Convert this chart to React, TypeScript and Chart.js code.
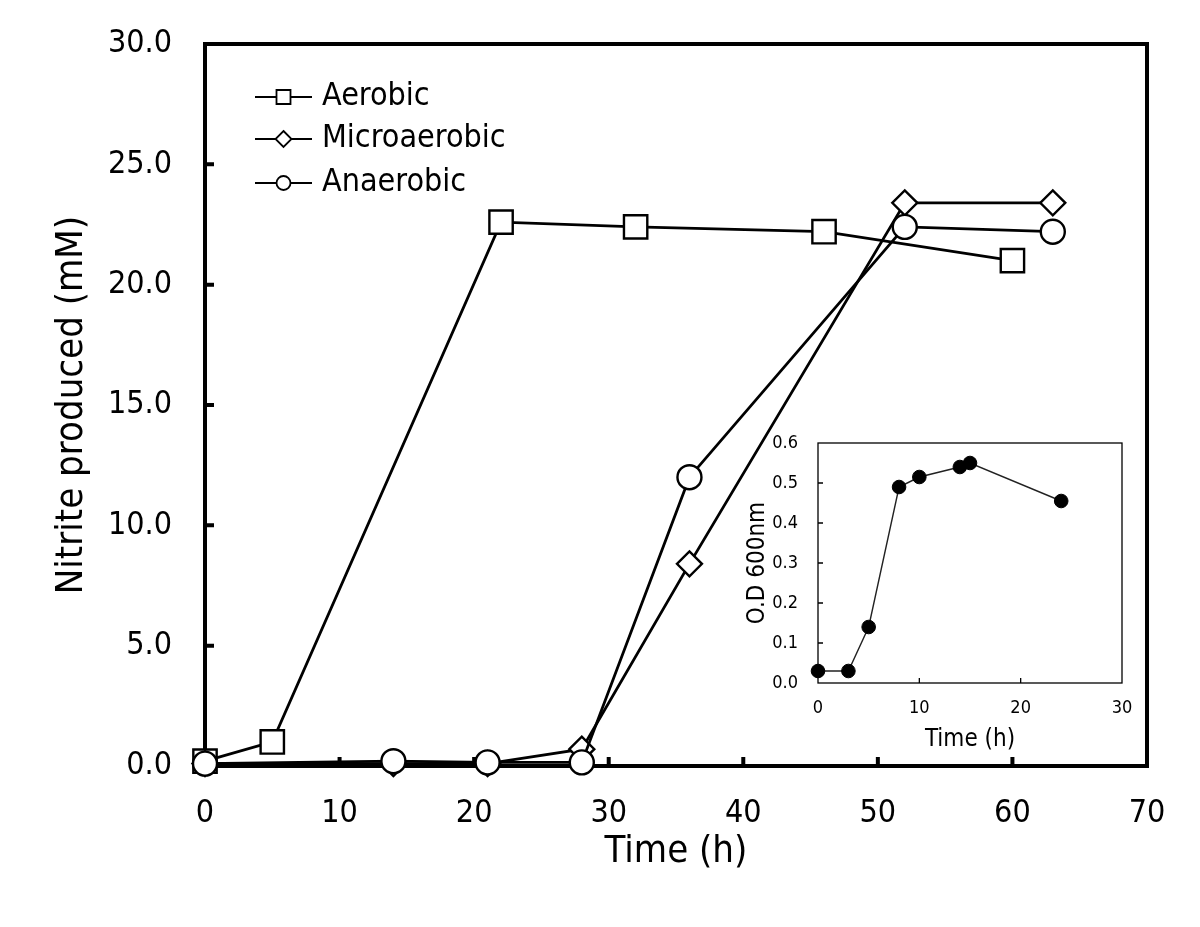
import React, { useEffect, useRef } from 'react';
import { Chart, registerables } from 'chart.js';

Chart.register(...registerables);

const FONT = '"DejaVu Sans Condensed", "DejaVu Sans", Verdana, sans-serif';

// ---- Main chart data ----
const seriesLabels = ['Aerobic', 'Microaerobic', 'Anaerobic'];
const aerobicTime = [0, 5, 22, 32, 46, 60];
const aerobicNitrite = [0.2, 1.0, 22.6, 22.4, 22.2, 21.0];
const microTime = [0, 14, 21, 28, 36, 52, 63];
const microNitrite = [0.1, 0.1, 0.1, 0.7, 8.4, 23.4, 23.4];
const anaerTime = [0, 14, 21, 28, 36, 52, 63];
const anaerNitrite = [0.1, 0.2, 0.15, 0.15, 12.0, 22.4, 22.2];
const mainXMin = 0;
const mainXMax = 70;
const mainXStep = 10;
const mainYMin = 0;
const mainYMax = 30;
const mainYStep = 5;

// ---- Inset data ----
const insetTime = [0, 3, 5, 8, 10, 14, 15, 24];
const insetOD = [0.03, 0.03, 0.14, 0.49, 0.515, 0.54, 0.55, 0.455];
const insetXMax = 30;
const insetXStep = 10;
const insetYMax = 0.6;
const insetYStep = 0.1;

const toPoints = (xs: number[], ys: number[]) => xs.map((x, i) => ({ x, y: ys[i] }));

const framePlugin = {
  id: 'frame',
  beforeDatasetsDraw(chart: any, _args: any, opts: any) {
    const { ctx, chartArea: a, scales } = chart;
    ctx.save();
    ctx.strokeStyle = '#000';
    ctx.lineWidth = opts.lineWidth;
    ctx.strokeRect(a.left, a.top, a.right - a.left, a.bottom - a.top);
    ctx.beginPath();
    scales.x.ticks.forEach((t: any) => {
      const px = scales.x.getPixelForValue(t.value);
      if (px > a.left + 2 && px < a.right - 2) {
        ctx.moveTo(px, a.bottom);
        ctx.lineTo(px, a.bottom - opts.tickLen);
      }
    });
    scales.y.ticks.forEach((t: any) => {
      const py = scales.y.getPixelForValue(t.value);
      if (py > a.top + 2 && py < a.bottom - 2) {
        ctx.moveTo(a.left, py);
        ctx.lineTo(a.left + opts.tickLen, py);
      }
    });
    ctx.stroke();
    ctx.restore();
  },
};

const legendPlugin = {
  id: 'customLegend',
  afterDraw(chart: any) {
    const { ctx, chartArea: a } = chart;
    const offsets = [53, 95, 139];
    ctx.save();
    chart.data.datasets.forEach((ds: any, i: number) => {
      const y = a.top + offsets[i];
      const x0 = a.left + 50;
      const x1 = a.left + 107;
      const cx = (x0 + x1) / 2;
      ctx.strokeStyle = '#000';
      ctx.lineWidth = 2;
      ctx.beginPath();
      ctx.moveTo(x0, y);
      ctx.lineTo(x1, y);
      ctx.stroke();
      ctx.fillStyle = '#fff';
      ctx.lineWidth = 1.8;
      ctx.beginPath();
      if (ds.pointStyle === 'rect') {
        ctx.rect(cx - 7, y - 7, 14, 14);
      } else if (ds.pointStyle === 'rectRot') {
        ctx.moveTo(cx, y - 8);
        ctx.lineTo(cx + 8, y);
        ctx.lineTo(cx, y + 8);
        ctx.lineTo(cx - 8, y);
        ctx.closePath();
      } else {
        ctx.arc(cx, y, 7, 0, Math.PI * 2);
      }
      ctx.fill();
      ctx.stroke();
      ctx.fillStyle = '#000';
      ctx.font = `32px ${FONT}`;
      ctx.textBaseline = 'middle';
      ctx.textAlign = 'left';
      ctx.fillText(ds.label, x1 + 10, y);
    });
    ctx.restore();
  },
};

const noPadV = (s: any) => { s.paddingTop = 0; s.paddingBottom = 0; };
const noPadH = (s: any) => { s.paddingLeft = 0; s.paddingRight = 0; };

export default function App() {
  const mainRef = useRef<HTMLCanvasElement>(null);
  const insetRef = useRef<HTMLCanvasElement>(null);

  useEffect(() => {
    const common = {
      borderColor: '#000',
      backgroundColor: '#fff',
      pointBackgroundColor: '#fff',
      pointBorderColor: '#000',
      borderWidth: 2.8,
      pointBorderWidth: 2.4,
      showLine: true,
      clip: false as any,
    };
    const main = new Chart(mainRef.current!, {
      type: 'scatter',
      data: {
        datasets: [
          { ...common, label: seriesLabels[0], data: toPoints(aerobicTime, aerobicNitrite), pointStyle: 'rect', pointRadius: 16.5, order: 3 },
          { ...common, label: seriesLabels[1], data: toPoints(microTime, microNitrite), pointStyle: 'rectRot', pointRadius: 12.5, order: 2 },
          { ...common, label: seriesLabels[2], data: toPoints(anaerTime, anaerNitrite), pointStyle: 'circle', pointRadius: 12, order: 1 },
        ],
      },
      options: {
        animation: false,
        responsive: false,
        layout: { padding: { top: 44, right: 53, left: 0, bottom: 0 } },
        plugins: {
          legend: { display: false },
          tooltip: { enabled: false },
          frame: { lineWidth: 4, tickLen: 9 },
        } as any,
        scales: {
          x: {
            type: 'linear',
            min: mainXMin,
            max: mainXMax,
            ticks: { stepSize: mainXStep, color: '#000', font: { family: FONT, size: 32 }, padding: 28, maxRotation: 0 },
            grid: { display: false, drawTicks: false },
            border: { display: false },
            title: { display: true, text: 'Time (h)', color: '#000', font: { family: FONT, size: 38 }, padding: { top: 0, bottom: 52 } },
            afterFit: (s: any) => { s.height = 161; noPadH(s); },
          },
          y: {
            type: 'linear',
            min: mainYMin,
            max: mainYMax,
            ticks: { stepSize: mainYStep, color: '#000', font: { family: FONT, size: 32 }, padding: 33, callback: (v: any) => Number(v).toFixed(1) },
            grid: { display: false, drawTicks: false },
            border: { display: false },
            title: { display: true, text: 'Nitrite produced (mM)', color: '#000', font: { family: FONT, size: 38 }, padding: { top: 49, bottom: 0 } },
            afterFit: (s: any) => { s.width = 205; noPadV(s); },
          },
        },
      },
      plugins: [framePlugin, legendPlugin],
    });

    const inset = new Chart(insetRef.current!, {
      type: 'scatter',
      data: {
        datasets: [
          {
            label: 'O.D 600nm',
            data: toPoints(insetTime, insetOD),
            showLine: true,
            borderColor: '#222',
            borderWidth: 1.4,
            pointStyle: 'circle',
            pointRadius: 6.8,
            pointBackgroundColor: '#000',
            pointBorderColor: '#000',
            pointBorderWidth: 1,
            clip: false as any,
          },
        ],
      },
      options: {
        animation: false,
        responsive: false,
        layout: { padding: { top: 43, right: 28, left: 0, bottom: 0 } },
        plugins: {
          legend: { display: false },
          tooltip: { enabled: false },
          frame: { lineWidth: 1.3, tickLen: 5 },
        } as any,
        scales: {
          x: {
            type: 'linear',
            min: 0,
            max: insetXMax,
            ticks: { stepSize: insetXStep, color: '#000', font: { family: FONT, size: 18 }, padding: 15, maxRotation: 0 },
            grid: { display: false, drawTicks: false },
            border: { display: false },
            title: { display: true, text: 'Time (h)', color: '#000', font: { family: FONT, size: 24 }, padding: { top: 0, bottom: 6 } },
            afterFit: (s: any) => { s.height = 77; noPadH(s); },
          },
          y: {
            type: 'linear',
            min: 0,
            max: insetYMax,
            ticks: { stepSize: insetYStep, color: '#000', font: { family: FONT, size: 18 }, padding: 20, callback: (v: any) => Number(v).toFixed(1) },
            grid: { display: false, drawTicks: false },
            border: { display: false },
            title: { display: true, text: 'O.D 600nm', color: '#000', font: { family: FONT, size: 24 }, padding: { top: 43, bottom: 0 } },
            afterFit: (s: any) => { s.width = 118; noPadV(s); },
          },
        },
      },
      plugins: [framePlugin],
    });

    return () => {
      main.destroy();
      inset.destroy();
    };
  }, []);

  return (
    <div style={{ position: 'absolute', left: 0, top: 0, width: 1200, height: 927, background: '#fff' }}>
      <canvas ref={mainRef} width={1200} height={927} style={{ position: 'absolute', left: 0, top: 0 }} />
      <canvas ref={insetRef} width={450} height={360} style={{ position: 'absolute', left: 700, top: 400 }} />
    </div>
  );
}
